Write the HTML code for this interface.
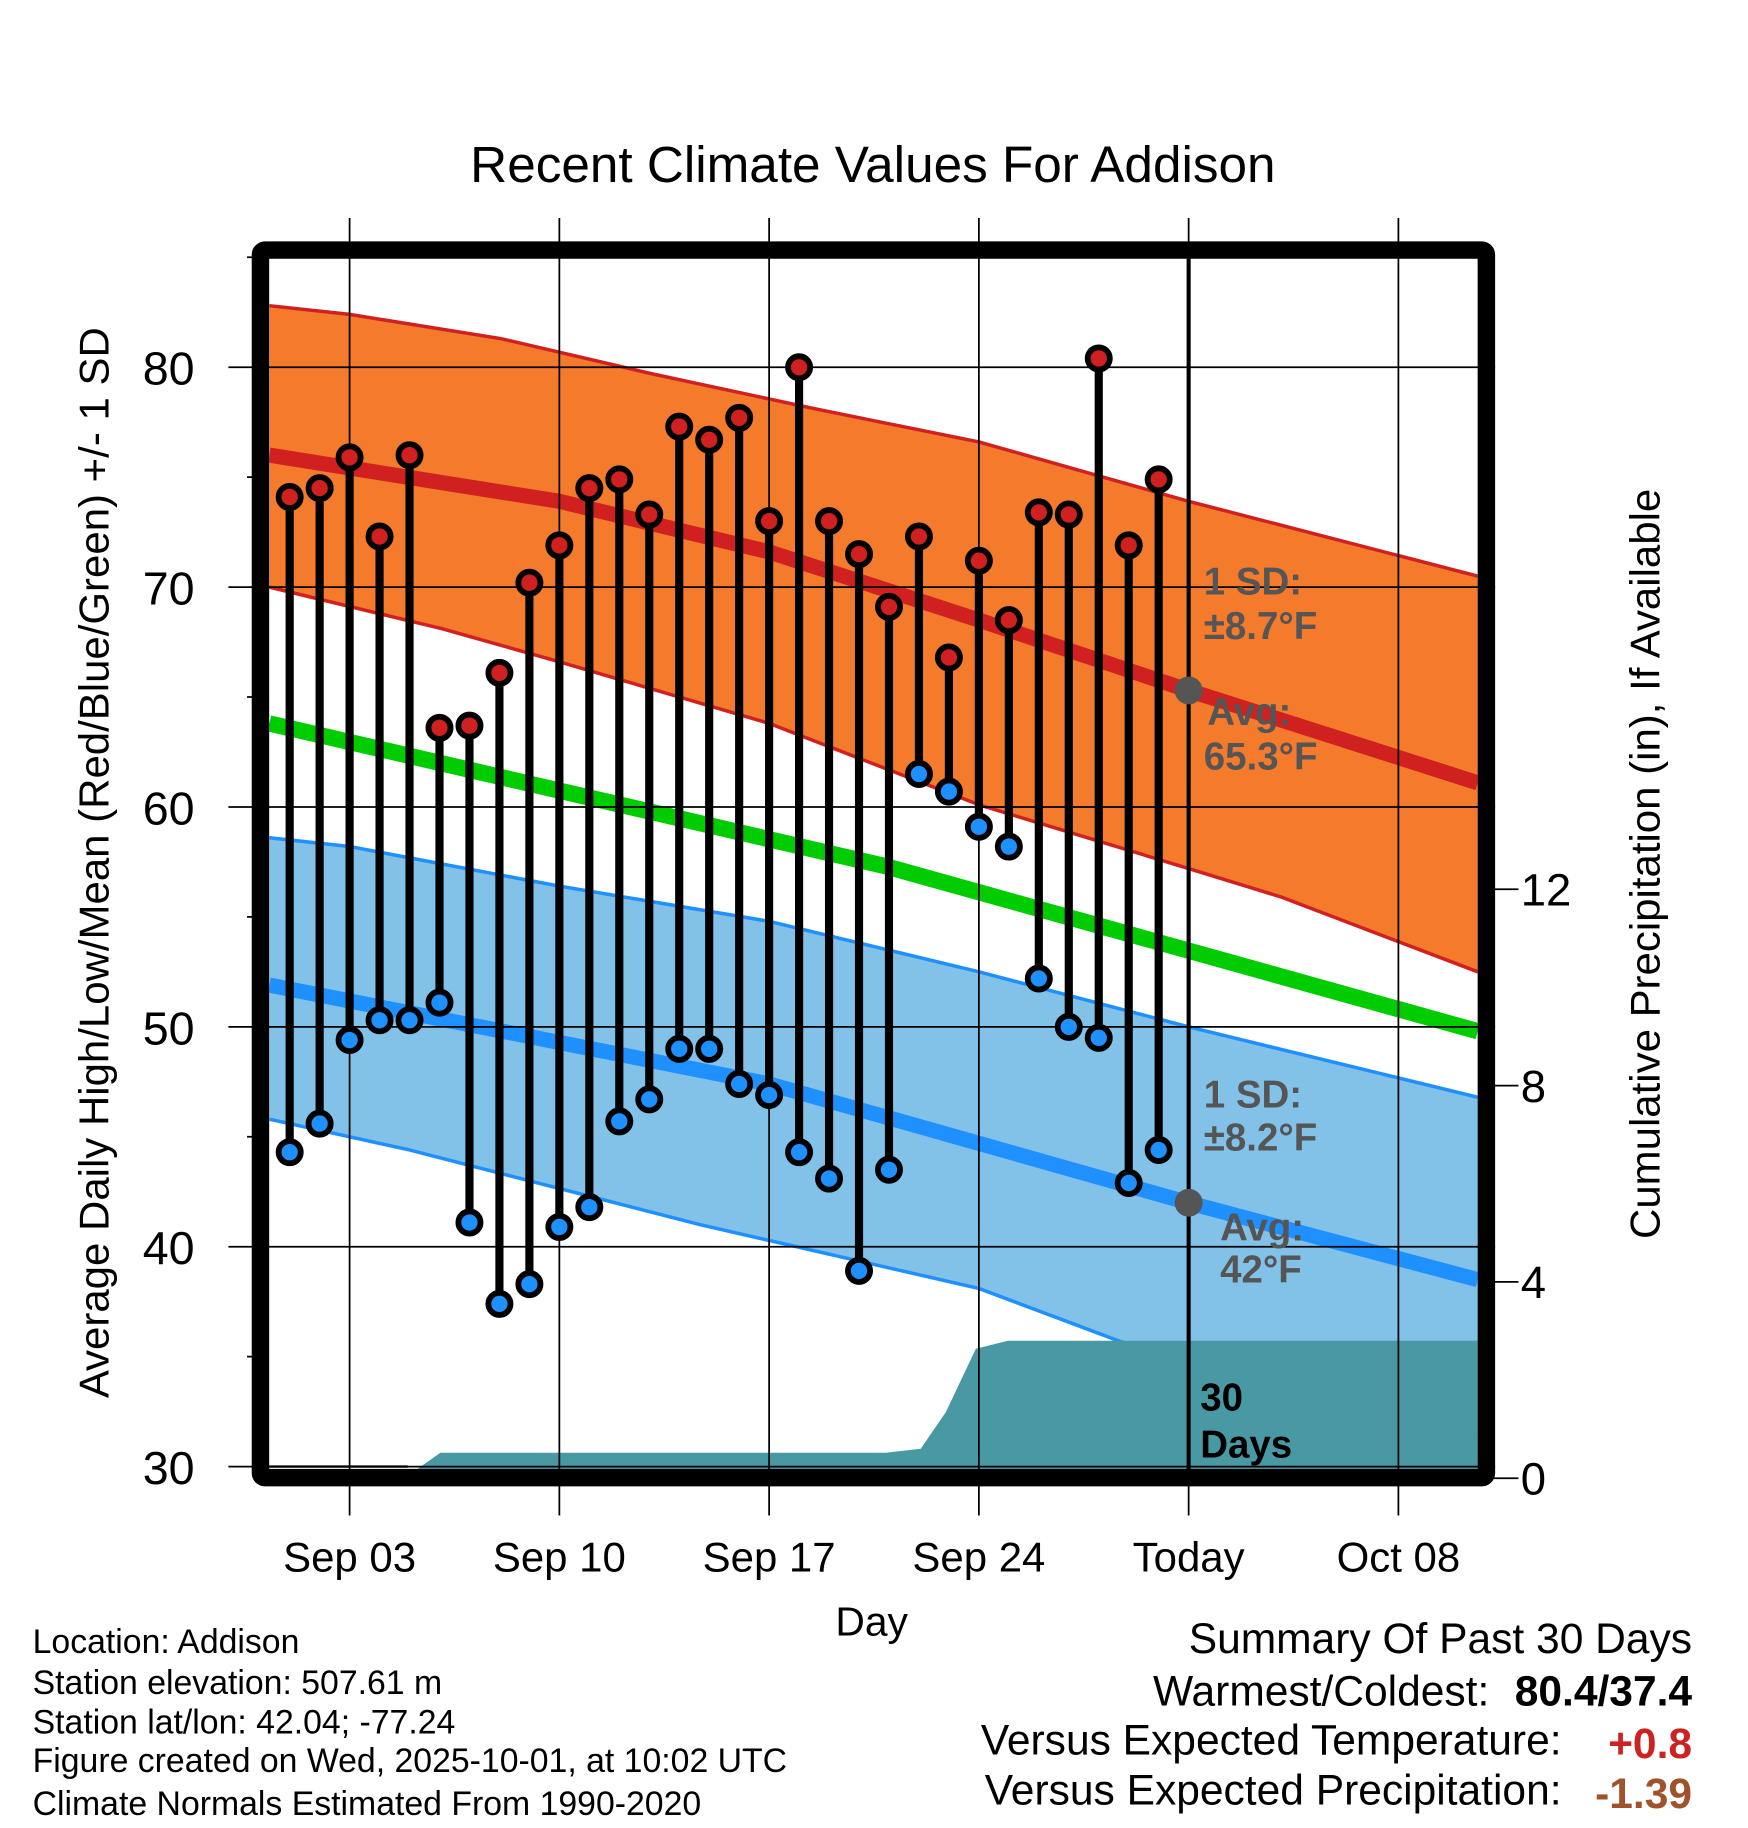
<!DOCTYPE html>
<html><head><meta charset="utf-8"><style>
html,body{margin:0;padding:0;background:#fff}
svg{display:block;font-family:"Liberation Sans",Arial,sans-serif}
</style></head><body>
<svg id="chart" width="1748" height="1828" viewBox="0 0 1500 1568" preserveAspectRatio="none" xmlns="http://www.w3.org/2000/svg">
<defs><clipPath id="plotclip"><rect x="231" y="222" width="1037" height="1038"/></clipPath></defs>
<g id="bands" clip-path="url(#plotclip)"></g>
<g id="grid"></g>
<g id="marks" clip-path="url(#plotclip)"></g>
<g id="overlay"></g>
<text x="749" y="156" font-size="44" text-anchor="middle">Recent Climate Values For Addison</text>
<text transform="translate(93,740) rotate(-90)" font-size="36" text-anchor="middle">Average Daily High/Low/Mean (Red/Blue/Green) +/- 1 SD</text>
<text transform="translate(1424,741) rotate(-90)" font-size="36" text-anchor="middle">Cumulative Precipitation (in), If Available</text>
<text x="748" y="1403" font-size="35" text-anchor="middle">Day</text>
<g font-size="29">
<text x="28" y="1418">Location: Addison</text>
<text x="28" y="1453">Station elevation: 507.61 m</text>
<text x="28" y="1487">Station lat/lon: 42.04; -77.24</text>
<text x="28" y="1520">Figure created on Wed, 2025-10-01, at 10:02 UTC</text>
<text x="28" y="1557">Climate Normals Estimated From 1990-2020</text>
</g>
<g font-size="36.5">
<text x="1452" y="1418" text-anchor="end">Summary Of Past 30 Days</text>
<text x="1278" y="1463" text-anchor="end">Warmest/Coldest:</text>
<text x="1452" y="1463" text-anchor="end" font-weight="bold">80.4/37.4</text>
<text x="1340" y="1505" text-anchor="end">Versus Expected Temperature:</text>
<text x="1452" y="1508" text-anchor="end" font-weight="bold" fill="#CC2222">+0.8</text>
<text x="1340" y="1548" text-anchor="end">Versus Expected Precipitation:</text>
<text x="1452" y="1551" text-anchor="end" font-weight="bold" fill="#A0522D">-1.39</text>
</g>
</svg>
<script>
// ---- data ----
const obsDays = [1,2,3,4,5,6,7,8,9,10,11,12,13,14,15,16,17,18,19,20,21,22,23,24,25,26,27,28,29,30];
const highs = [74.1,74.5,75.9,72.3,76.0,63.6,63.7,66.1,70.2,71.9,74.5,74.9,73.3,77.3,76.7,77.7,73.0,80.0,73.0,71.5,69.1,72.3,66.8,71.2,68.5,73.4,73.3,80.4,71.9,74.9];
const lows = [44.3,45.6,49.4,50.3,50.3,51.1,41.1,37.4,38.3,40.9,41.8,45.7,46.7,49.0,49.0,47.4,46.9,44.3,43.1,38.9,43.5,61.5,60.7,59.1,58.2,52.2,50.0,49.5,42.9,44.4];
const hiUpDays = [0.32,3,8.06,13.1,18.56,24,31,40.65];
const hiUpVals = [82.8,82.4,81.3,79.7,78.1,76.6,73.9,70.5];
const hiMeanDays = [0.32,10,17,24,31,40.65];
const hiMeanVals = [76.0,73.9,71.6,68.5,65.3,61.1];
const hiLoDays = [0.32,6.1,10,17,24,31,34.1,40.65];
const hiLoVals = [70.0,68.1,66.6,63.8,60.1,57.2,55.9,52.5];
const meanDays = [0.32,20.9,40.65];
const meanVals = [63.8,57.3,49.8];
const loUpDays = [0.32,3,10,17,24,31,40.65];
const loUpVals = [58.6,58.2,56.4,54.8,52.5,50.0,46.8];
const loMeanDays = [0.32,17,31,40.65];
const loMeanVals = [51.9,47.4,42.0,38.5];
const loLoDays = [0.32,5,14.7,24,28.7,40.65];
const loLoVals = [45.8,44.4,41.0,38.1,35.7,31.5];
const precDays = [0.32,3.9,4.94,6.03,20.9,22.06,22.9,23.9,24.97,40.65];
const precVals = [0,0,0.05,0.52,0.52,0.6,1.35,2.64,2.8,2.8];
const yTicks = [30,40,50,60,70,80];
const yMinor = [35,45,55,65,75,85];
const y2Ticks = [0,4,8,12];
const xTickDays = [3,10,17,24,31,38];
const xTickLabels = ["Sep 03","Sep 10","Sep 17","Sep 24","Today","Oct 08"];
const todayDay = 31;
const todayHiAvg = 65.3, todayLoAvg = 42.0;

// ---- axes ----
const X = d => 300 + (d - 3) * 180 / 7;
const Y = v => 315 + (80 - v) * 18.86;
const Y2 = p => 1268 - p * 42.1;
const NS = "http://www.w3.org/2000/svg";
function mk(tag, attrs, parent){const e=document.createElementNS(NS,tag);for(const k in attrs)e.setAttribute(k,attrs[k]);parent.appendChild(e);return e;}
const bands=document.getElementById('bands'),grid=document.getElementById('grid'),marks=document.getElementById('marks'),overlay=document.getElementById('overlay');
const pts=(ds,vs,f)=>ds.map((d,i)=>X(d).toFixed(1)+','+f(vs[i]).toFixed(1));
function band(ud,uv,ld,lv,fill,name){
  const p=pts(ud,uv,Y).concat(pts(ld,lv,Y).reverse()).join(' ');
  const e=mk('polygon',{points:p,fill:fill},bands);
  
  
}
function line(ds,vs,col,w,name,parent){
  const e=mk('polyline',{points:pts(ds,vs,Y).join(' '),fill:'none',stroke:col,'stroke-width':w},parent||bands);
  
  
}
band(hiUpDays,hiUpVals,hiLoDays,hiLoVals,'#F47A2C','high-sd-band');
band(loUpDays,loUpVals,loLoDays,loLoVals,'#82C1E8','low-sd-band');
line(hiUpDays,hiUpVals,'#D02020',3,'high-upper-sd');
line(hiLoDays,hiLoVals,'#D02020',3,'high-lower-sd');
line(loUpDays,loUpVals,'#1E90FF',3,'low-upper-sd');
line(loLoDays,loLoVals,'#1E90FF',3,'low-lower-sd');
line(hiMeanDays,hiMeanVals,'#D02020',13,'normal-high-line');
line(loMeanDays,loMeanVals,'#1E90FF',13,'normal-low-line');
line(meanDays,meanVals,'#00CC00',14,'normal-mean-line');
// precip
{
  const p=precDays.map((d,i)=>X(d).toFixed(1)+','+Y2(precVals[i]).toFixed(1));
  p.push(X(precDays[precDays.length-1]).toFixed(1)+','+Y2(0));
  p.push(X(precDays[0]).toFixed(1)+','+Y2(0));
  const e=mk('polygon',{points:p.join(' '),fill:'#4899A4'},bands);
  
  
}
// grid
yTicks.forEach(v=>{
  const g=mk('line',{x1:196,x2:1283,y1:Y(v),y2:Y(v),stroke:'#000','stroke-width':1.5},grid);
  
  
  const t=mk('text',{x:167,y:Y(v)+15,'font-size':40,'text-anchor':'end'},grid);
  t.textContent=v;
  
  
});
yMinor.forEach(v=>{
  const g=mk('line',{x1:212,x2:230,y1:Y(v),y2:Y(v),stroke:'#000','stroke-width':1.5},grid);
  
  
});
y2Ticks.forEach(p=>{
  const g=mk('line',{x1:1276,x2:1303,y1:Y2(p),y2:Y2(p),stroke:'#000','stroke-width':1.5},grid);
  
  
  const t=mk('text',{x:1305,y:Y2(p)+14,'font-size':39},grid);
  t.textContent=p;
  
  
});
xTickDays.forEach((d,i)=>{
  const g=mk('line',{x1:X(d),x2:X(d),y1:187,y2:1300,stroke:'#000','stroke-width':1.5},grid);
  
  
  const t=mk('text',{x:X(d),y:1348,'font-size':36,'text-anchor':'middle'},grid);
  t.textContent=xTickLabels[i];
  
  
});
// thin zero line left
{
  const z=mk('line',{x1:231,x2:X(precDays[2]),y1:Y(30),y2:Y(30),stroke:'#000','stroke-width':2},marks);
  
  
}
// stems + dots
obsDays.forEach((d,i)=>{
  const x=X(d);
  const s=mk('line',{x1:x,x2:x,y1:Y(highs[i]),y2:Y(lows[i]),stroke:'#000','stroke-width':7},marks);
  
  
  const h=mk('circle',{cx:x,cy:Y(highs[i]),r:9.5,fill:'#D02020',stroke:'#000','stroke-width':5},marks);
  
  
  const l=mk('circle',{cx:x,cy:Y(lows[i]),r:9.5,fill:'#1E90FF',stroke:'#000','stroke-width':5},marks);
  
  
});
// today line and markers
{
  const t=mk('line',{x1:X(todayDay),x2:X(todayDay),y1:222,y2:1262,stroke:'#000','stroke-width':3.5},overlay);
  
  
  const a=mk('circle',{cx:X(todayDay),cy:Y(todayHiAvg),r:12,fill:'#555'},overlay);
  
  
  const b=mk('circle',{cx:X(todayDay),cy:Y(todayLoAvg),r:12,fill:'#555'},overlay);
  
  
}
const ann=[["1 SD:",1033,510,'#555','high-sd-label'],["±8.7°F",1033,548,'#555','high-sd-value'],["Avg:",1036,622,'#555','high-avg-label'],["65.3°F",1033,660,'#555','high-avg-value'],
["1 SD:",1033,950,'#555','low-sd-label'],["±8.2°F",1033,987,'#555','low-sd-value'],["Avg:",1047,1064,'#555','low-avg-label'],["42°F",1047,1100,'#555','low-avg-value'],
["30",1030,1210,'#000','days-count'],["Days",1030,1250,'#000','days-label']];
ann.forEach(a=>{
  const t=mk('text',{x:a[1],y:a[2],'font-size':33,'font-weight':'bold',fill:a[3]},overlay);
  t.textContent=a[0];
  
  
});
{
  const f=mk('rect',{x:223.5,y:214.5,width:1052,height:1053,fill:'none',stroke:'#000','stroke-width':15,rx:4},overlay);
  
  
}
</script>
</body></html>
